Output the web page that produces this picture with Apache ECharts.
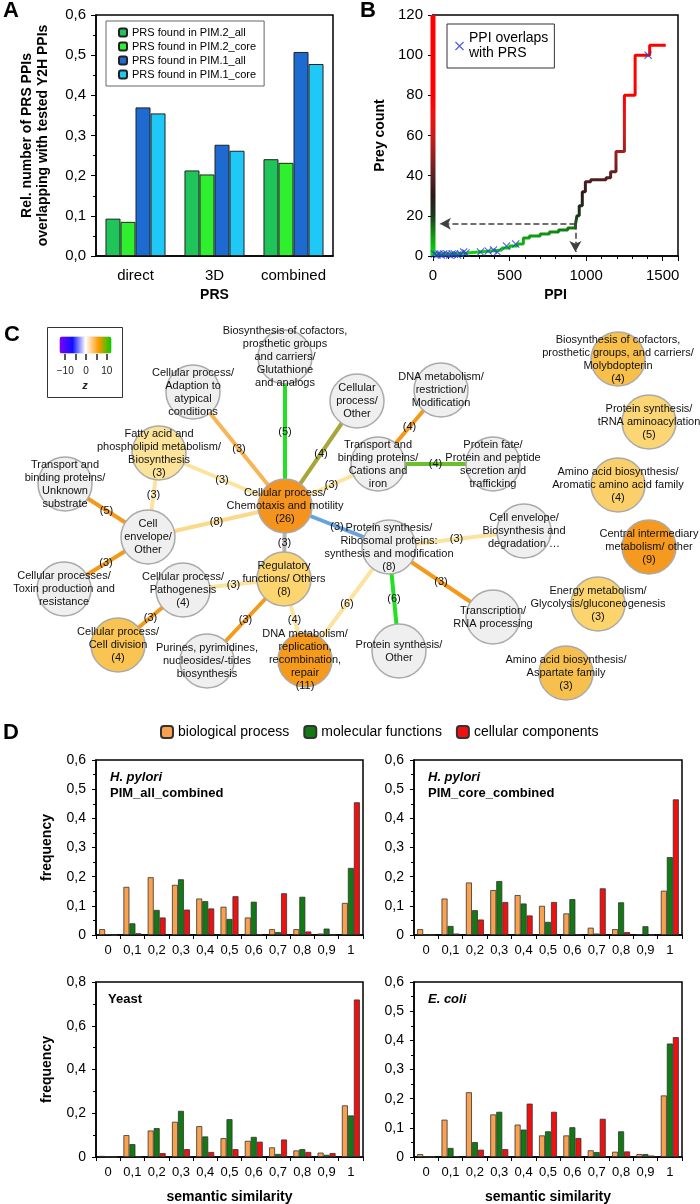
<!DOCTYPE html>
<html><head><meta charset="utf-8">
<script src="https://cdn.jsdelivr.net/npm/echarts@6/dist/echarts.min.js"></script>
<style>html,body{margin:0;padding:0;background:#fff}#c{width:700px;height:1204px}</style>
</head><body><div id="c"></div>
<script>
// ---------- Panel A data ----------
const prsCategories = ['direct', '3D', 'combined'];
const pim2All  = [0.093, 0.213, 0.241];
const pim2Core = [0.085, 0.203, 0.232];
const pim1All  = [0.370, 0.277, 0.508];
const pim1Core = [0.355, 0.262, 0.478];
const aSeriesNames = ['PRS found in PIM.2_all', 'PRS found in PIM.2_core', 'PRS found in PIM.1_all', 'PRS found in PIM.1_core'];

// ---------- Panel B data ----------
const ppiSteps  = [0, 60, 120, 220, 300, 380, 450, 500, 550, 590, 630, 700, 760, 820, 880, 930, 940, 955, 975, 995, 1030, 1130, 1160, 1195, 1250, 1320, 1415, 1520];
const preySteps = [1, 1, 1.5, 2, 2.5, 3, 4, 5, 6, 9, 10, 11, 12, 13, 14, 15.5, 20, 25, 32, 37, 38, 39, 42, 52, 80, 100, 105, 105];
const overlapPPI  = [10, 25, 40, 55, 70, 90, 110, 125, 140, 160, 180, 200, 215, 310, 360, 395, 420, 480, 540, 1405];
const overlapPrey = [1, 0.5, 1, 0.5, 1, 1, 0.5, 1, 1, 0.5, 1, 2, 1.5, 2, 2.5, 3, 2, 5, 6, 100];
const preyScaleRange = [0, 120];
const arrowCorner = [930, 16];
const arrowTipLeft = [45, 16];
const arrowTipDown = [930, 2];

// ---------- Panel C data ----------
const goTerms = [
  'Biosynthesis of cofactors,\nprosthetic groups\nand carriers/\nGlutathione\nand analogs',
  'Cellular process/\nAdaption to\natypical\nconditions',
  'Cellular\nprocess/\nOther',
  'DNA metabolism/\nrestriction/\nModification',
  'Fatty acid and\nphospholipid metabolism/\nBiosynthesis',
  'Transport and\nbinding proteins/\nCations and\niron',
  'Protein fate/\nProtein and peptide\nsecretion and\ntrafficking',
  'Transport and\nbinding proteins/\nUnknown\nsubstrate',
  'Cellular process/\nChemotaxis and motility',
  'Cell\nenvelope/\nOther',
  'Protein synthesis/\nRibosomal proteins:\nsynthesis and modification',
  'Cell envelope/\nBiosynthesis and\ndegradation …',
  'Regulatory\nfunctions/ Others',
  'Cellular process/\nPathogenesis',
  'Cellular processes/\nToxin production and\nresistance',
  'Cellular process/\nCell division',
  'Purines, pyrimidines,\nnucleosides/-tides\nbiosynthesis',
  'DNA metabolism/\nreplication,\nrecombination,\nrepair',
  'Protein synthesis/\nOther',
  'Transcription/\nRNA processing',
  'Biosynthesis of cofactors,\nprosthetic groups, and carriers/\nMolybdopterin',
  'Protein synthesis/\ntRNA aminoacylation',
  'Amino acid biosynthesis/\nAromatic amino acid family',
  'Central intermediary\nmetabolism/ other',
  'Energy metabolism/\nGlycolysis/gluconeogenesis',
  'Amino acid biosynthesis/\nAspartate family'
];
const goCounts = [null, null, null, null, 3, null, null, null, 26, null, 8, null, 8, 4, null, 4, null, 11, null, null, 4, 5, 4, 9, 3, 3];
const goLinks = [
  [0, 8, 5], [1, 8, 3], [2, 8, 4], [4, 8, 3], [5, 8, 3], [8, 9, 8], [8, 10, 3], [8, 12, 3],
  [3, 5, 4], [5, 6, 4], [4, 9, 3], [7, 9, 5], [9, 14, 3], [13, 12, 3], [13, 15, 3],
  [12, 16, 3], [12, 17, 4], [10, 11, 3], [10, 17, 6], [10, 18, 6], [10, 19, 3]
];
const zTicks = [-10, -5, 0, 5, 10];
const zTickLabels = [-10, 0, 10];

// ---------- Panel D data ----------
const simCats = ['0', '0,1', '0,2', '0,3', '0,4', '0,5', '0,6', '0,7', '0,8', '0,9', '1'];
const goNames = ['biological process', 'molecular functions', 'cellular components'];
const allBP = [0.02, 0.165, 0.198, 0.172, 0.125, 0.097, 0.06, 0.02, 0.02, 0.005, 0.11];
const allMF = [0.003, 0.04, 0.086, 0.191, 0.116, 0.055, 0.114, 0.01, 0.131, 0.022, 0.23];
const allCC = [0, 0.006, 0.06, 0.087, 0.091, 0.133, 0.003, 0.143, 0.012, 0, 0.455];
const coreBP = [0.02, 0.125, 0.18, 0.154, 0.137, 0.1, 0.074, 0.025, 0.02, 0.003, 0.152];
const coreMF = [0, 0.031, 0.085, 0.185, 0.108, 0.045, 0.123, 0.005, 0.112, 0.03, 0.267];
const coreCC = [0, 0.005, 0.053, 0.113, 0.067, 0.113, 0.003, 0.16, 0.01, 0, 0.465];
const yeastBP = [0.005, 0.1, 0.121, 0.161, 0.141, 0.086, 0.074, 0.044, 0.03, 0.02, 0.236];
const yeastMF = [0.002, 0.059, 0.132, 0.211, 0.094, 0.173, 0.092, 0.014, 0.036, 0.01, 0.19];
const yeastCC = [0, 0.002, 0.018, 0.036, 0.023, 0.036, 0.07, 0.08, 0.023, 0.018, 0.72];
const ecoliBP = [0.01, 0.128, 0.222, 0.146, 0.111, 0.074, 0.074, 0.023, 0.018, 0.01, 0.211];
const ecoliMF = [0.002, 0.031, 0.051, 0.155, 0.094, 0.088, 0.102, 0.017, 0.088, 0.01, 0.389];
const ecoliCC = [0, 0.002, 0.025, 0.027, 0.183, 0.155, 0.065, 0.131, 0.019, 0.005, 0.411];

// ---------- styles / layout (kept apart from data) ----------
const FONT = 'Liberation Sans, Arial, sans-serif';
const aColors = ['#1fc45a', '#2ef02e', '#1d6bd1', '#1ec8f7'];
const dColors = ['#f9a14e', '#127a12', '#f01010'];
const nodePos = [
  [285, 357], [193, 392], [357, 401], [441, 390], [159, 453], [378, 464], [493, 464], [65, 484],
  [285, 506], [148, 537], [389, 547], [524, 531], [284, 579], [183, 590], [64, 589], [118, 645],
  [207, 661], [305, 660], [399, 651], [493, 617],
  [618, 359], [649, 422], [618, 485], [649, 547], [598, 604], [566, 673]
];
const GREY = '#efefef';
const nodeFill = [
  GREY, GREY, GREY, GREY, '#fce39a', GREY, GREY, GREY,
  '#f5931f', GREY, GREY, GREY, '#fcd571', GREY, GREY, '#f9c452',
  GREY, '#f59a1a', GREY, GREY,
  '#f8c04a', '#fcd574', '#fbd06a', '#f59a1f', '#fcd46e', '#f7c04e'
];
const PALE = '#fde3a0', ORG = '#f39a1c';
const linkColor = [
  '#22e022', '#f6b556', '#a8a63a', PALE, PALE, '#fbd98a', '#6aa3dc', '#b5b5b5',
  ORG, '#6cbf2a', PALE, ORG, ORG, PALE, ORG,
  ORG, PALE, PALE, PALE, '#22e022', ORG
];

const comma = v => v.toFixed(1).replace('.', ',');
const commaD = v => v === 0 ? '0' : comma(v);
const BLACK = '#000';
const axLine = {show: true, lineStyle: {color: BLACK, width: 1.5}};
const tick = {show: true, length: 5, lineStyle: {color: BLACK}};
const nameStyle = {fontSize: 14, fontWeight: 'bold', color: BLACK, fontFamily: FONT, lineHeight: 16};

// ---------- graph nodes/links ----------
const gNodes = goTerms.map((t, i) => ({
  name: t, x: nodePos[i][0], y: nodePos[i][1], value: goCounts[i],
  symbolSize: 54,
  itemStyle: {color: nodeFill[i], borderColor: '#aaaaaa', borderWidth: 1.5},
  label: {formatter: goCounts[i] != null ? t + '\n(' + goCounts[i] + ')' : t}
}));
goLinks.forEach((l, k) => {
  gNodes.push({
    name: '__edge' + k,
    x: (nodePos[l[0]][0] + nodePos[l[1]][0]) / 2,
    y: (nodePos[l[0]][1] + nodePos[l[1]][1]) / 2,
    symbolSize: 1,
    itemStyle: {color: 'rgba(0,0,0,0)', borderWidth: 0},
    label: {formatter: '(' + l[2] + ')'}
  });
});
const gLinks = goLinks.map((l, k) => ({
  source: l[0], target: l[1], value: l[2],
  lineStyle: {color: linkColor[k], width: 4, opacity: 1, curveness: 0}
}));
const xs = nodePos.map(p => p[0]), ys = nodePos.map(p => p[1]);
const bx0 = Math.min(...xs), bx1 = Math.max(...xs), by0 = Math.min(...ys), by1 = Math.max(...ys);

// ---------- D helpers ----------
const dGrids = [
  {left: 96, top: 760, width: 267, height: 175},
  {left: 414, top: 760, width: 268, height: 175},
  {left: 96, top: 982, width: 267, height: 175},
  {left: 414, top: 982, width: 268, height: 175}
];
const dData = [[allBP, allMF, allCC], [coreBP, coreMF, coreCC], [yeastBP, yeastMF, yeastCC], [ecoliBP, ecoliMF, ecoliCC]];
const dMax = [0.6, 0.6, 0.8, 0.6];
const dStep = [0.1, 0.1, 0.2, 0.1];

const grids = [
  {left: 96, top: 15, width: 237, height: 241},
  {left: 433, top: 15, width: 245, height: 241},
  {left: 59, top: 353, width: 52, height: 1, show: false},
].concat(dGrids).map(g => Object.assign({show: g.show !== false, borderColor: BLACK, borderWidth: 1.5, outerBoundsMode: 'none', containLabel: false}, g));

const xAxes = [
  {type: 'category', gridIndex: 0, data: prsCategories, axisLine: axLine, axisTick: {show: false},
   axisLabel: {interval: 0, fontSize: 15, color: BLACK, margin: 12}, name: 'PRS', nameLocation: 'middle', nameGap: 31, nameTextStyle: nameStyle},
  {type: 'value', gridIndex: 1, min: 0, max: 1600, interval: 500, axisLine: axLine, axisTick: tick,
   minorTick: {show: true, splitNumber: 5, length: 3, lineStyle: {color: BLACK}}, splitLine: {show: false},
   axisLabel: {fontSize: 15, color: BLACK, margin: 12, showMaxLabel: false, formatter: v => String(v)},
   name: 'PPI', nameLocation: 'middle', nameGap: 31, nameTextStyle: nameStyle},
  {type: 'value', gridIndex: 2, min: -13, max: 12, axisLine: {show: false}, splitLine: {show: false},
   axisTick: {show: true, length: 6, customValues: zTicks, lineStyle: {color: '#222', width: 1.5}},
   axisLabel: {fontSize: 10, color: '#222', margin: 12, customValues: zTickLabels, formatter: v => v < 0 ? '\u2212' + (-v) : String(v)},
   name: 'z', nameLocation: 'middle', nameGap: 26, nameTextStyle: {fontSize: 11, fontStyle: 'italic', fontWeight: 'bold', color: '#222'}}
].concat(dGrids.map((g, k) => ({
  type: 'category', gridIndex: k + 3, data: simCats, axisLine: axLine,
  axisTick: {show: true, length: 4, lineStyle: {color: BLACK}},
  axisLabel: {interval: 0, fontSize: 13, color: BLACK, margin: 9},
  name: k >= 2 ? 'semantic similarity' : '', nameLocation: 'middle', nameGap: 32, nameTextStyle: nameStyle
})));

const yAxes = [
  {type: 'value', gridIndex: 0, min: 0, max: 0.6, interval: 0.1, axisLine: axLine, axisTick: tick,
   minorTick: {show: true, splitNumber: 2, length: 3, lineStyle: {color: BLACK}}, splitLine: {show: false},
   axisLabel: {fontSize: 15, color: BLACK, margin: 10, formatter: comma},
   name: 'Rel. number of PRS PPIs\noverlapping with tested Y2H PPIs', nameLocation: 'middle', nameRotate: 90, nameGap: 45, nameTextStyle: nameStyle},
  {type: 'value', gridIndex: 1, min: 0, max: 120, interval: 20, axisLine: axLine, axisTick: tick, splitLine: {show: false},
   axisLabel: {fontSize: 15, color: BLACK, margin: 10},
   name: 'Prey count', nameLocation: 'middle', nameRotate: 90, nameGap: 45, nameTextStyle: nameStyle},
  {type: 'value', gridIndex: 2, show: false}
].concat(dGrids.map((g, k) => ({
  type: 'value', gridIndex: k + 3, min: 0, max: dMax[k], interval: dStep[k], axisLine: axLine,
  axisTick: {show: true, length: 4, lineStyle: {color: BLACK}},
  minorTick: {show: true, splitNumber: 2, length: 3, lineStyle: {color: BLACK}}, splitLine: {show: false},
  axisLabel: {fontSize: 14, color: BLACK, margin: 10, formatter: commaD},
  name: (k === 0 || k === 2) ? 'frequency' : '', nameLocation: 'middle', nameRotate: 90, nameGap: 41, nameTextStyle: nameStyle
})));

const series = [];
[pim2All, pim2Core, pim1All, pim1Core].forEach((d, i) => series.push({
  type: 'bar', name: aSeriesNames[i], xAxisIndex: 0, yAxisIndex: 0, data: d,
  barGap: '0%', barCategoryGap: '24%', itemStyle: {color: aColors[i], borderColor: '#222', borderWidth: 1}
}));
// 4: prey count colour scale bar
series.push({type: 'line', xAxisIndex: 1, yAxisIndex: 1, data: preyScaleRange.map(v => [0, v]),
  showSymbol: false, lineStyle: {width: 5}, silent: true, z: 3});
// 5: step curve
series.push({type: 'line', xAxisIndex: 1, yAxisIndex: 1, step: 'end', data: ppiSteps.map((x, i) => [x, preySteps[i]]),
  showSymbol: false, lineStyle: {width: 3}, silent: true, z: 3});
// 6: overlaps
series.push({type: 'scatter', name: 'PPI overlaps with PRS', xAxisIndex: 1, yAxisIndex: 1,
  data: overlapPPI.map((x, i) => [x, overlapPrey[i]]),
  symbol: 'path://M0,1L1,0L5,4L9,0L10,1L6,5L10,9L9,10L5,6L1,10L0,9L4,5Z', symbolSize: 8,
  itemStyle: {color: '#2a3fd0'}, z: 4,
  markLine: {silent: true, symbol: ['none', 'arrow'], symbolSize: [9, 11],
    lineStyle: {type: 'dashed', color: '#404040', width: 1.5}, label: {show: false},
    data: [[{coord: arrowCorner}, {coord: arrowTipLeft}], [{coord: arrowCorner}, {coord: arrowTipDown}]]}
});
// 7: dummy for z colour legend
series.push({type: 'line', xAxisIndex: 2, yAxisIndex: 2, data: []});
// 8: network
series.push({type: 'graph', layout: 'none', left: bx0, top: by0, width: bx1 - bx0, height: by1 - by0,
  roam: false, silent: true, data: gNodes, links: gLinks, edgeSymbol: ['none', 'none'],
  label: {show: true, position: 'inside', color: '#111', fontSize: 11, lineHeight: 13, fontFamily: FONT},
  emphasis: {disabled: true}});
// 9..20: D bars
dData.forEach((arr, k) => arr.forEach((d, j) => series.push({
  type: 'bar', name: goNames[j], xAxisIndex: k + 3, yAxisIndex: k + 3, data: d,
  barGap: '0%', barCategoryGap: '26%', itemStyle: {color: dColors[j], borderColor: '#333', borderWidth: 0.8}
})));

const richTitle = {
  i: {fontStyle: 'italic', fontWeight: 'bold', fontSize: 13, lineHeight: 16, color: BLACK, fontFamily: FONT},
  b: {fontWeight: 'bold', fontSize: 13, lineHeight: 16, color: BLACK, fontFamily: FONT}
};
const panelLetter = (t, l, tp) => ({text: t, left: l, top: tp, padding: 0, textStyle: {fontSize: 22, fontWeight: 'bold', color: BLACK, fontFamily: FONT}});

const option = {
  animation: false,
  textStyle: {fontFamily: FONT},
  title: [
    panelLetter('A', 3, 0), panelLetter('B', 360, 0), panelLetter('C', 4, 324), panelLetter('D', 3, 722),
    {text: '{i|H. pylori}\n{b|PIM_all_combined}', left: 110, top: 769, padding: 0, textStyle: {rich: richTitle}},
    {text: '{i|H. pylori}\n{b|PIM_core_combined}', left: 428, top: 769, padding: 0, textStyle: {rich: richTitle}},
    {text: '{b|Yeast}', left: 108, top: 991, padding: 0, textStyle: {rich: richTitle}},
    {text: '{i|E. coli}', left: 428, top: 991, padding: 0, textStyle: {rich: richTitle}}
  ],
  legend: [
    {data: aSeriesNames, orient: 'vertical', left: 106, top: 21, padding: [6, 8, 6, 12], itemGap: 3,
     itemWidth: 8, itemHeight: 8, borderColor: '#666', borderWidth: 1, selectedMode: false,
     textStyle: {fontSize: 11, color: BLACK}},
    {data: ['PPI overlaps with PRS'], left: 447, top: 24, padding: [7, 6, 7, 8], itemWidth: 9, itemHeight: 9,
     borderColor: '#333', borderWidth: 1, selectedMode: false, formatter: () => 'PPI overlaps\nwith PRS',
     textStyle: {fontSize: 14, lineHeight: 15, color: BLACK}},
    {data: goNames, left: 160, top: 725, padding: 0, itemGap: 14, itemWidth: 12, itemHeight: 12, selectedMode: false,
     textStyle: {fontSize: 14, color: BLACK}}
  ],
  visualMap: [
    {type: 'continuous', show: false, seriesIndex: [4, 5], dimension: 1, min: 0, max: 100,
     inRange: {color: ['#11dd11', '#119911', '#1a3a1a', '#2a1818', '#5a2020', '#952020', '#cc1a1a', '#ee1111', '#ff0000', '#ff0000', '#ff0000']}},
    {type: 'continuous', seriesIndex: [7], min: -13, max: 12, orient: 'horizontal', left: 47, top: 327,
     itemWidth: 17, itemHeight: 52, padding: [9, 11, 44, 12], borderColor: '#333', borderWidth: 1,
     calculable: false, hoverLink: false,
     inRange: {color: ['#7f00ff', '#1010ff', '#ffffff', '#ff9900', '#00cc00']}}
  ],
  grid: grids,
  xAxis: xAxes,
  yAxis: yAxes,
  series: series
};
const chart = echarts.init(document.getElementById('c'), null, {renderer: 'canvas'});
chart.setOption(option);
</script>
</body></html>
